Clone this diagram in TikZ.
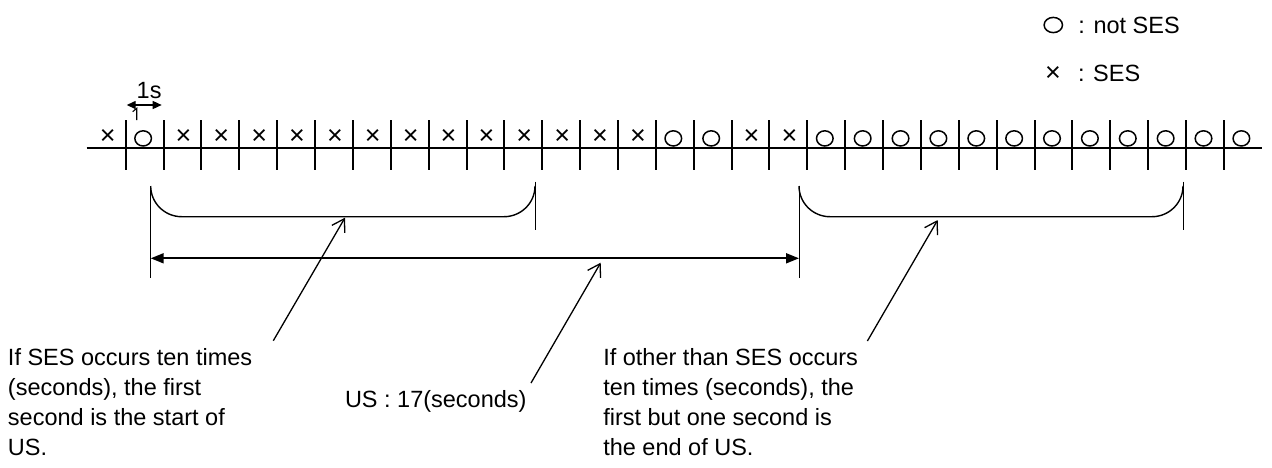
\documentclass[tikz,border=0pt]{standalone}
\usepackage{fontspec}
\setmainfont{Liberation Sans}
\usetikzlibrary{arrows.meta,shapes.geometric}
\begin{document}
\begin{tikzpicture}[x=1pt,y=-1pt,
  every node/.style={inner sep=0pt,outer sep=0pt},
  txt/.style={font=\fontsize{23.5}{30}\selectfont,anchor=base west},
  sym/.style={font=\fontsize{27}{30}\selectfont,anchor=base},
  osym/.style={draw,ellipse,line width=1.5pt,minimum width=16.6pt,minimum height=15.2pt},
  axisline/.style={line width=2pt},
  tickline/.style={line width=2pt},
  brk/.style={line width=1.4pt},
  vline/.style={line width=1pt},
  leader/.style={line width=1.3pt,-{Straight Barb[length=12pt,width=15pt,line width=1.3pt]}},
  usarrow/.style={line width=1.8pt,{Triangle[length=13pt,width=10pt]}-{Triangle[length=13pt,width=10pt]}},
  secarrow/.style={line width=1.4pt,{Triangle[length=9pt,width=8pt]}-{Triangle[length=9pt,width=8pt]}}
]
\useasboundingbox (0,0) rectangle (1272,467);

% legend
\node[osym,minimum width=18.4pt] (legO) at (1053.3,25) {};
\node[txt] (legOt) at (1078.3,33) {: not SES};
\node[sym] (legX) at (1053,81) {×};
\node[txt] (legXt) at (1078,81) {: SES};

% 1s marker
\node[txt] (onesec) at (136.7,98.3) {1s};
\coordinate (secL) at (126.7,105);
\coordinate (secR) at (161.7,105);
\draw[secarrow] (secL) -- (secR);
\draw[line width=1.1pt] (132.7,111.7) -- (136.7,108.3) -- (136.7,120);

% time axis
\coordinate (axL) at (86.7,148);
\coordinate (axR) at (1261.7,148);
\draw[axisline] (axL) -- (axR);
\foreach \k in {0,...,29}{
  \pgfmathsetmacro\tx{125.7+\k*37.87}
  \draw[tickline] (\tx,120) -- (\tx,170);
}
\foreach \c in {-1,1,2,3,4,5,6,7,8,9,10,11,12,13,16,17}{
  \pgfmathsetmacro\cx{125.7+(\c+0.5)*37.87+1}
  \node[sym] (x\c) at (\cx,144.3) {×};
}
\foreach \c in {0,14,15,18,19,20,21,22,23,24,25,26,27,28,29}{
  \pgfmathsetmacro\cx{125.7+(\c+0.5)*37.87-1.5}
  \node[osym] (o\c) at (\cx,138.4) {};
}

% bracket 1
\draw[brk] (150.7,186) .. controls (150.7,202.9) and (164.6,216.7) .. (181.7,216.7)
  -- (504,216.7) .. controls (521.1,216.7) and (535,202.9) .. (535,186);
\draw[vline] (150.7,186) -- (150.7,278);
\draw[vline] (535,181.7) -- (535,230);

% bracket 2
\draw[brk] (799,186) .. controls (799,202.9) and (812.9,216.7) .. (830,216.7)
  -- (1152,216.7) .. controls (1169.1,216.7) and (1183,202.9) .. (1183,186);
\draw[vline] (799,186) -- (799,278);
\draw[vline] (1183,181.7) -- (1183,230);

% US span
\coordinate (usL) at (150.7,258.3);
\coordinate (usR) at (799,258.3);
\draw[usarrow] (usL) -- (usR);

% labels
\node[txt] (lab1) at (8,365.5) {\vtop{\baselineskip=30pt\hbox{If SES occurs ten times}\hbox{(seconds), the first}\hbox{second is the start of}\hbox{US.}}};
\node[txt] (labUS) at (345,407) {US : 17(seconds)};
\node[txt] (lab2) at (603.3,365.5) {\vtop{\baselineskip=30pt\hbox{If other than SES occurs}\hbox{ten times (seconds), the}\hbox{first but one second is}\hbox{the end of US.}}};

% leaders
\coordinate (l1tail) at (273.3,340.7);
\coordinate (l1tip) at (345,217.7);
\coordinate (lUStail) at (531,383);
\coordinate (lUStip) at (600.7,262.7);
\coordinate (l2tail) at (867.4,341);
\coordinate (l2tip) at (937.7,220);
\draw[leader] (l1tail) -- (l1tip);
\draw[leader] (lUStail) -- (lUStip);
\draw[leader] (l2tail) -- (l2tip);
\end{tikzpicture}
\end{document}
